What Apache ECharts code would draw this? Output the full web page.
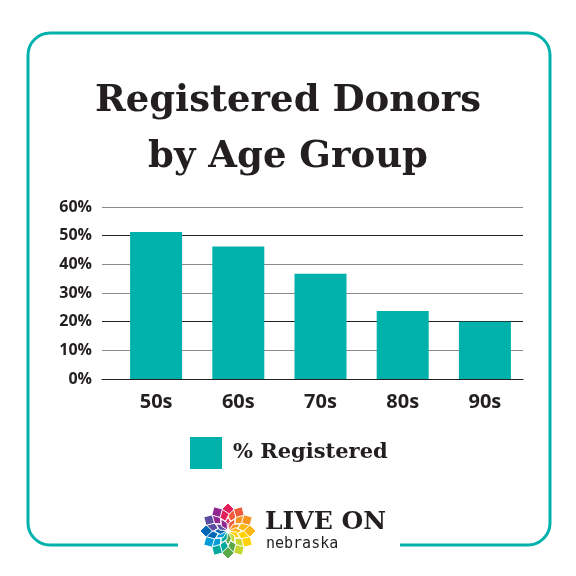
<!DOCTYPE html>
<html>
<head>
<meta charset="utf-8">
<style>
  html, body { margin: 0; padding: 0; background: #fff; }
  #chart { width: 576px; height: 576px; }
</style>
<script src="https://cdn.jsdelivr.net/npm/echarts@6/dist/echarts.min.js"></script>
</head>
<body>
<div id="chart"></div>
<script>
const ageGroups = ['50s', '60s', '70s', '80s', '90s'];
const registeredPct = [51.3, 46.2, 36.7, 23.7, 20.0];
const seriesName = '% Registered';
const titleLines = ['Registered Donors', 'by Age Group'];

const teal = '#00b2ab';
const ink = '#231f20';

// logo flower: rings of rhombi, one colour per 30 degree sector
const petalColors = ['#e31f5c', '#f15a3a', '#f7941d', '#fdb913', '#ffd200', '#c5d730',
                     '#5aa946', '#00a99d', '#009bd9', '#0066b3', '#5b4c9f', '#92278f'];

function rhombus(cx, cy, ang, rIn, rOut, halfW) {
  const ca = Math.cos(ang), sa = Math.sin(ang);
  const rm = (rIn + rOut) / 2;
  const px = -sa, py = ca;
  return [
    [cx + ca * rIn, cy + sa * rIn],
    [cx + ca * rm + px * halfW, cy + sa * rm + py * halfW],
    [cx + ca * rOut, cy + sa * rOut],
    [cx + ca * rm - px * halfW, cy + sa * rm - py * halfW]
  ];
}

function logoShapes(cx, cy, R) {
  const out = [];
  const st = (fill) => ({ fill: fill, stroke: '#fff', lineWidth: 1 });
  for (let k = 0; k < 12; k++) {
    const a = -Math.PI / 2 + k * Math.PI / 6;
    const col = petalColors[k];
    out.push({ type: 'polygon', shape: { points: rhombus(cx, cy, a, R * 0.04, R * 0.5, R * 0.12) }, style: st(col) });
    const a2 = a + Math.PI / 12;
    out.push({ type: 'polygon', shape: { points: rhombus(cx, cy, a2, R * 0.36, R * 0.8, R * 0.2) }, style: st(petalColors[(k + 1) % 12]) });
    out.push({ type: 'polygon', shape: { points: rhombus(cx, cy, a, R * 0.56, R * 1.0, R * 0.22) }, style: st(col) });
  }
  return out;
}

const chart = echarts.init(document.getElementById('chart'));

const labelFont = { fontFamily: 'Open Sans', fontWeight: 'bold', color: ink };

chart.setOption({
  backgroundColor: '#fff',
  animation: false,
  textStyle: { color: ink },
  title: {
    text: titleLines.join('\n'),
    left: 'center',
    top: 68,
    textStyle: {
      fontFamily: 'DejaVu Serif',
      fontWeight: 'bold',
      fontSize: 37,
      lineHeight: 56,
      color: ink
    }
  },
  legend: {
    data: [seriesName],
    left: 190,
    top: 437,
    padding: 0,
    icon: 'rect',
    itemWidth: 32,
    itemHeight: 32,
    textStyle: {
      fontFamily: 'DejaVu Serif',
      fontWeight: 'bold',
      fontSize: 21,
      color: ink,
      padding: [0, 0, 0, 6]
    }
  },
  // grid 0 carries the value scale and lines, grid 1 the bars (slightly shifted band)
  grid: [
    { left: 102, right: 53, top: 207, bottom: 197 },
    { left: 115, right: 50, top: 207, bottom: 197 }
  ],
  xAxis: [
    {
      gridIndex: 0,
      type: 'category',
      data: ageGroups,
      axisTick: { show: false },
      axisLabel: { show: false },
      axisLine: { lineStyle: { color: '#222', width: 1.2 } }
    },
    {
      gridIndex: 1,
      type: 'category',
      data: ageGroups,
      axisTick: { show: false },
      axisLine: { show: false },
      axisLabel: Object.assign({ margin: 13, fontSize: 20 }, labelFont)
    }
  ],
  yAxis: [
    {
      gridIndex: 0,
      type: 'value',
      min: 0,
      max: 60,
      interval: 10,
      axisLine: { show: false },
      axisTick: { show: false },
      axisLabel: Object.assign({ margin: 10, formatter: '{value}%', fontSize: 16 }, labelFont),
      splitLine: {
        lineStyle: { color: ['#222', '#8a8a8a', '#222', '#8a8a8a', '#8a8a8a', '#222', '#8a8a8a'], width: 1.2 }
      }
    },
    {
      gridIndex: 1,
      type: 'value',
      min: 0,
      max: 60,
      interval: 10,
      show: false,
      splitLine: { show: false }
    }
  ],
  series: [{
    name: seriesName,
    type: 'bar',
    xAxisIndex: 1,
    yAxisIndex: 1,
    data: registeredPct,
    barWidth: 52,
    itemStyle: { color: teal }
  }],
  graphic: [
    {
      type: 'rect',
      shape: { x: 28, y: 33, width: 522, height: 512, r: 22 },
      style: { stroke: teal, lineWidth: 3, fill: null }
    },
    {
      type: 'rect',
      shape: { x: 178, y: 538, width: 222, height: 14 },
      style: { fill: '#fff' }
    },
    {
      type: 'group',
      children: logoShapes(228, 531, 28)
    },
    {
      type: 'text',
      left: 265,
      top: 510,
      style: {
        text: 'LIVE ON',
        font: 'bold 25px "DejaVu Serif"',
        fill: ink
      }
    },
    {
      type: 'text',
      left: 266,
      top: 537,
      style: {
        text: 'nebraska',
        font: '15px "DejaVu Sans Mono"',
        fill: ink
      }
    }
  ]
});
</script>
</body>
</html>
